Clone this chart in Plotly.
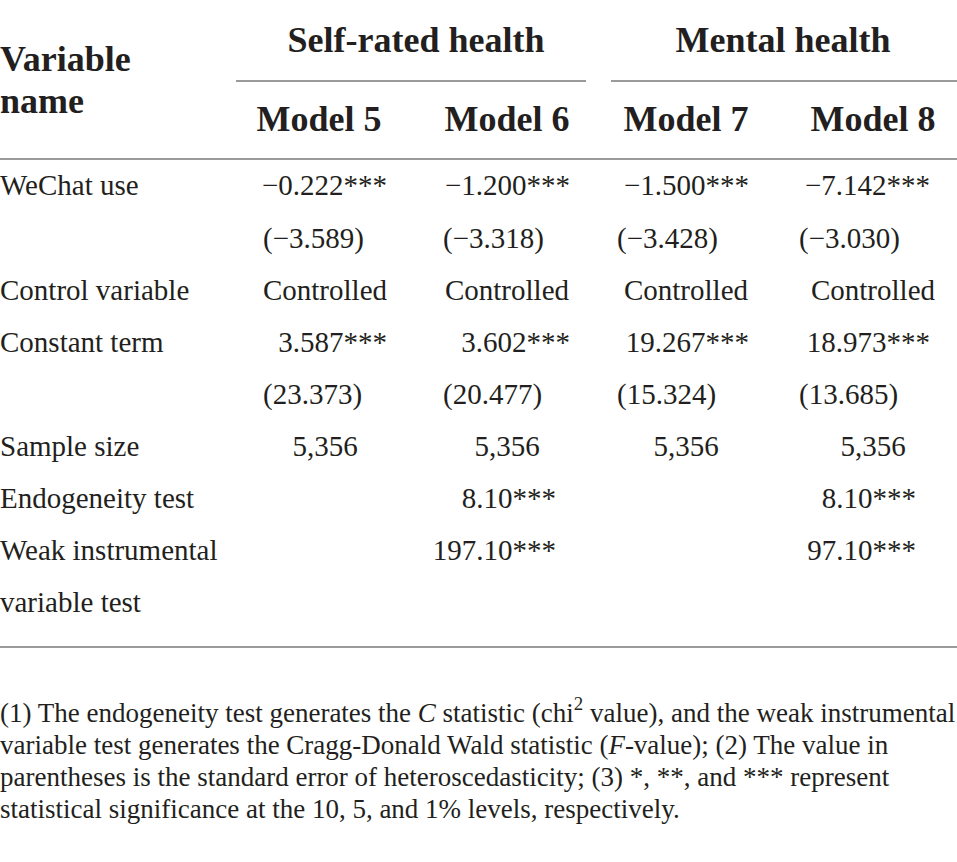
import plotly.graph_objects as go

# ---- table content ----
group_titles = ["Self-rated health", "Mental health"]
model_names = ["Model 5", "Model 6", "Model 7", "Model 8"]
row_labels = [
    "WeChat use", "", "Control variable", "Constant term", "",
    "Sample size", "Endogeneity test", "Weak instrumental", "variable test",
]
model5 = ["−0.222***", "(−3.589)", "Controlled", "3.587***", "(23.373)", "5,356", "", "", ""]
model6 = ["−1.200***", "(−3.318)", "Controlled", "3.602***", "(20.477)", "5,356", "8.10***", "197.10***", ""]
model7 = ["−1.500***", "(−3.428)", "Controlled", "19.267***", "(15.324)", "5,356", "", "", ""]
model8 = ["−7.142***", "(−3.030)", "Controlled", "18.973***", "(13.685)", "5,356", "8.10***", "97.10***", ""]
notes = [
    "(1) The endogeneity test generates the <i>C</i> statistic (chi<sup>2</sup> value), and the weak instrumental",
    "variable test generates the Cragg-Donald Wald statistic (<i>F</i>-value); (2) The value in",
    "parentheses is the standard error of heteroscedasticity; (3) *, **, and *** represent",
    "statistical significance at the 10, 5, and 1% levels, respectively.",
]

# ---- layout (pixel grid, y grows downward) ----
W, H = 957, 862
INK = "#231f20"
RULE = "#9a9a9a"
SERIF = "Liberation Serif, Times New Roman, serif"

row_kind = ["coef", "paren", "ctrl", "coef", "paren", "n", "test", "test", "n"]
row_y = [188, 241, 293, 345, 397, 449, 501, 553, 605]
col_center = [325, 507, 686, 873]
col_right = [387, 570, 749, 930]
col_left = [263, 443, 617, 799]
test_right = [387, 556, 749, 916]
model_cols = [model5, model6, model7, model8]
LEFT = 0

fig = go.Figure()


def add_text(xs, ys, texts, pos, size, bold=False):
    keep = [(x, y, t) for x, y, t in zip(xs, ys, texts) if t]
    if not keep:
        return
    xs, ys, texts = zip(*keep)
    if bold:
        texts = [f"<b>{t}</b>" for t in texts]
    fig.add_trace(go.Scatter(
        x=list(xs), y=list(ys), text=list(texts), mode="text", textposition=pos,
        textfont=dict(family=SERIF, size=size, color=INK),
        hoverinfo="skip", showlegend=False, cliponaxis=False,
    ))


# header
add_text([LEFT, LEFT], [62, 104], ["Variable", "name"], "middle right", 36, bold=True)
add_text([416, 783], [43, 43], group_titles, "middle center", 36, bold=True)
add_text([319, 507, 686, 873], [122] * 4, model_names, "middle center", 36, bold=True)

# row labels
add_text([LEFT] * len(row_labels), row_y, row_labels, "middle right", 29)

# body cells
for c, vals in enumerate(model_cols):
    for r, v in enumerate(vals):
        if not v:
            continue
        kind = row_kind[r]
        if kind == "coef":
            add_text([col_right[c]], [row_y[r]], [v], "middle left", 29)
        elif kind == "paren":
            add_text([col_left[c]], [row_y[r]], [v], "middle right", 29)
        elif kind == "test":
            add_text([test_right[c]], [row_y[r]], [v], "middle left", 29)
        else:
            add_text([col_center[c]], [row_y[r]], [v], "middle center", 29)

# notes
add_text([LEFT] * len(notes), [715, 747, 779, 811], notes, "middle right", 27)

# rules
rules = [(236, 586, 81), (611, 957, 81), (0, 957, 159), (0, 957, 647)]
for x0, x1, y in rules:
    fig.add_shape(type="line", x0=x0, x1=x1, y0=y, y1=y,
                  line=dict(color=RULE, width=2))

fig.update_xaxes(range=[0, W], visible=False, fixedrange=True)
fig.update_yaxes(range=[H, 0], visible=False, fixedrange=True)
fig.update_layout(
    width=W, height=H,
    margin=dict(l=0, r=0, t=0, b=0),
    plot_bgcolor="white", paper_bgcolor="white",
)

fig.write_html(
    "out.html",
    config={"displayModeBar": False},
    post_script="document.body.style.margin='0px';",
)
